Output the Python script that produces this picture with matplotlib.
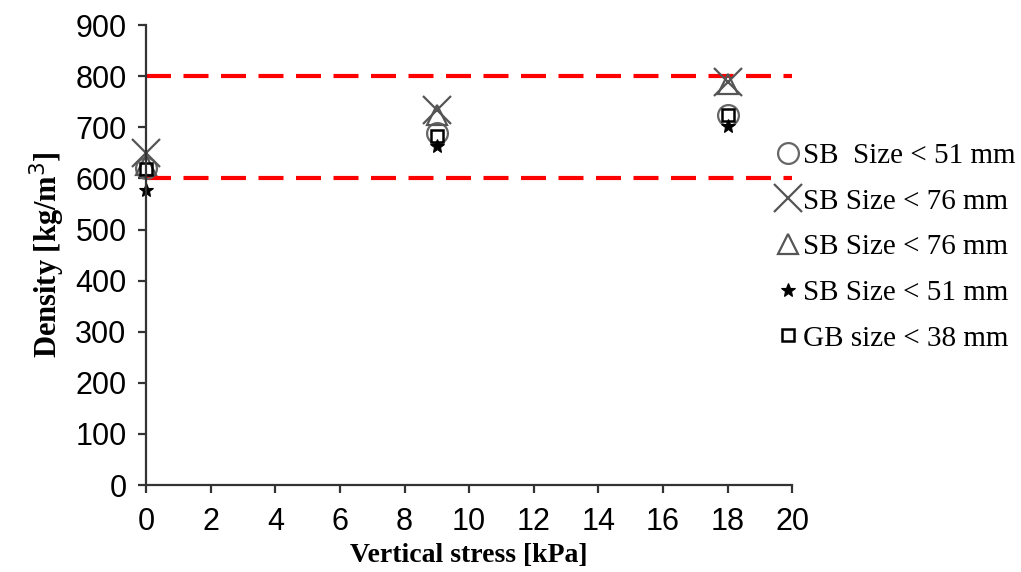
import matplotlib.pyplot as plt

# Vertical stress [kPa]
stress = [0, 9, 18]

# Density [kg/m3] per series
sb51_circle = [620, 688, 725]
sb76_cross = [650, 734, 788]
sb76_triangle = [626, 724, 784]
sb51_star = [578, 664, 702]
gb38_square = [618, 684, 724]

labels = ['SB  Size < 51 mm', 'SB Size < 76 mm', 'SB Size < 76 mm',
          'SB Size < 51 mm', 'GB size < 38 mm']

limits = [600, 800]

fig = plt.figure(figsize=(10.21, 5.72), dpi=100)
ax = fig.add_axes([0.143, 0.152, 0.633, 0.804])

ax.plot(stress, sb51_circle, 'o', ms=15, mfc='none', mec='#666666', mew=1.6, label=labels[0])
ax.plot(stress, sb76_cross, 'x', ms=20, mec='#555555', mew=1.6, label=labels[1])
ax.plot(stress, sb76_triangle, '^', ms=15, mfc='none', mec='#555555', mew=1.6, label=labels[2])
ax.plot(stress, sb51_star, '*', ms=10, mfc='black', mec='black', mew=0.8, label=labels[3])
ax.plot(stress, gb38_square, 's', ms=9, mfc='none', mec='black', mew=1.8, label=labels[4])

for lim in limits:
    ax.axhline(lim, color='red', lw=3, ls=(0, (6, 3)), zorder=0)

ax.set_xlim(0, 20)
ax.set_ylim(0, 900)
ax.set_xticks(range(0, 21, 2))
ax.set_yticks(range(0, 901, 100))
ax.spines['top'].set_visible(False)
ax.spines['right'].set_visible(False)
for s in ['left', 'bottom']:
    ax.spines[s].set_linewidth(1.6)
    ax.spines[s].set_color('#333333')
ax.tick_params(axis='both', direction='out', length=6, width=1.6, color='#333333',
               labelsize=22)
ax.tick_params(axis='x', pad=10)
ax.tick_params(axis='y', pad=8)
for t in ax.get_xticklabels() + ax.get_yticklabels():
    t.set_fontfamily('Liberation Sans')

ax.set_xlabel('Vertical stress [kPa]', fontfamily='Liberation Serif', fontweight='bold',
              fontsize=20, labelpad=4)
ax.set_ylabel('Density [kg/m$^3$]', fontfamily='Liberation Serif', fontweight='bold',
              fontsize=22, labelpad=6)
for ln in ax.lines:
    ln.set_clip_on(False)

leg = ax.legend(loc='upper left', bbox_to_anchor=(0.96, 0.77), frameon=False,
                prop={'family': 'Liberation Serif', 'size': 21}, handlelength=0.7,
                handletextpad=0.15, labelspacing=0.66, borderaxespad=0)

fig.savefig('out.png', dpi=100)
